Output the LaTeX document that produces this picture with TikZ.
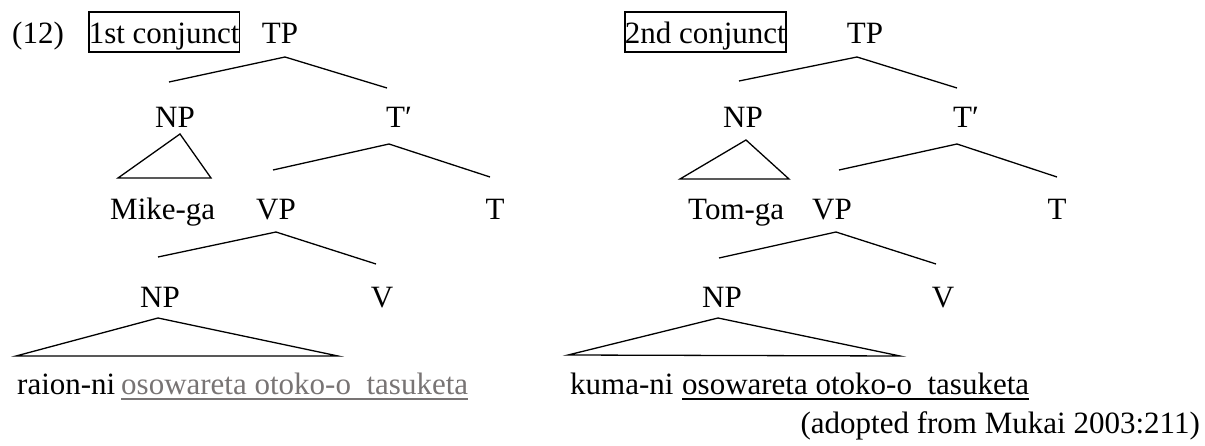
\documentclass[tikz,border=0pt]{standalone}
\usepackage{fontspec}
\setmainfont{Liberation Serif}
\definecolor{softgrey}{RGB}{120,116,116}
\begin{document}
\begin{tikzpicture}[x=1pt,y=-1pt,
  lab/.style={inner sep=0pt,anchor=base,font=\fontsize{31}{37}\selectfont},
  labw/.style={lab,anchor=base west},
  tag/.style={labw,draw,line width=1.6pt,text height=32pt,text depth=8pt},
  branch/.style={line width=1.3pt},
  uline/.style={line width=1.8pt}]
\useasboundingbox (0,0) rectangle (1205,446);

% ---------- first conjunct ----------
\node[labw] (num) at (12,44) {(12)};
\node[tag] (box1) at (88,44) {1st conjunct};
\node[lab] (tp1) at (280,44) {TP};
\node[lab] (np1) at (175,128) {NP};
\node[labw] (tb1) at (386,128) {T′};
\node[labw] (subj1) at (110,220) {Mike-ga};
\node[lab] (vp1) at (276,220) {VP};
\node[lab] (t1) at (495,220) {T};
\node[lab] (obj1) at (160,308) {NP};
\node[lab] (v1) at (382,308) {V};
\node[labw] (str1a) at (17,394) {raion-ni};
\node[labw,text=softgrey] (str1b) at (121,394) {osowareta otoko-o\ \ tasuketa};

\coordinate (tp1a) at (285,57);
\coordinate (tp1l) at (169,82);
\coordinate (tp1r) at (387,88);
\coordinate (np1a) at (180,134);
\coordinate (np1l) at (118,178);
\coordinate (np1r) at (211,178);
\coordinate (tb1a) at (389,144);
\coordinate (tb1l) at (273,170);
\coordinate (tb1r) at (490,177);
\coordinate (vp1a) at (276,232);
\coordinate (vp1l) at (158,257);
\coordinate (vp1r) at (376,264);
\coordinate (obj1a) at (158,318);
\coordinate (obj1l) at (16,356);
\coordinate (obj1r) at (338,356);

\draw[branch] (tp1l) -- (tp1a) -- (tp1r);
\draw[branch] (np1l) -- (np1a) -- (np1r) -- cycle;
\draw[branch] (tb1l) -- (tb1a) -- (tb1r);
\draw[branch] (vp1l) -- (vp1a) -- (vp1r);
\draw[branch] (obj1l) -- (obj1a) -- (obj1r) -- cycle;
\draw[uline,softgrey] ([yshift=-5pt]str1b.base west) -- ([yshift=-5pt]str1b.base east);

% ---------- second conjunct ----------
\node[tag] (box2) at (624,44) {2nd conjunct};
\node[lab] (tp2) at (865,44) {TP};
\node[lab] (np2) at (743,128) {NP};
\node[labw] (tb2) at (953,128) {T′};
\node[labw] (subj2) at (688,220) {Tom-ga};
\node[lab] (vp2) at (832,220) {VP};
\node[lab] (t2) at (1057,220) {T};
\node[lab] (obj2) at (722,308) {NP};
\node[lab] (v2) at (943,308) {V};
\node[labw] (str2a) at (570,394) {kuma-ni};
\node[labw] (str2b) at (682,394) {osowareta otoko-o\ \ tasuketa};

\coordinate (tp2a) at (857,57);
\coordinate (tp2l) at (739,81);
\coordinate (tp2r) at (957,88);
\coordinate (np2a) at (746,140);
\coordinate (np2l) at (680,179);
\coordinate (np2r) at (789,179);
\coordinate (tb2a) at (957,144);
\coordinate (tb2l) at (839,170);
\coordinate (tb2r) at (1057,177);
\coordinate (vp2a) at (836,232);
\coordinate (vp2l) at (719,258);
\coordinate (vp2r) at (936,264);
\coordinate (obj2a) at (718,318);
\coordinate (obj2l) at (568,355);
\coordinate (obj2r) at (900,356);

\draw[branch] (tp2l) -- (tp2a) -- (tp2r);
\draw[branch] (np2l) -- (np2a) -- (np2r) -- cycle;
\draw[branch] (tb2l) -- (tb2a) -- (tb2r);
\draw[branch] (vp2l) -- (vp2a) -- (vp2r);
\draw[branch] (obj2l) -- (obj2a) -- (obj2r) -- cycle;
\draw[uline] ([yshift=-5pt]str2b.base west) -- ([yshift=-5pt]str2b.base east);

\node[lab,anchor=base east] (src) at (1200,433) {(adopted from Mukai 2003:211)};
\end{tikzpicture}
\end{document}
